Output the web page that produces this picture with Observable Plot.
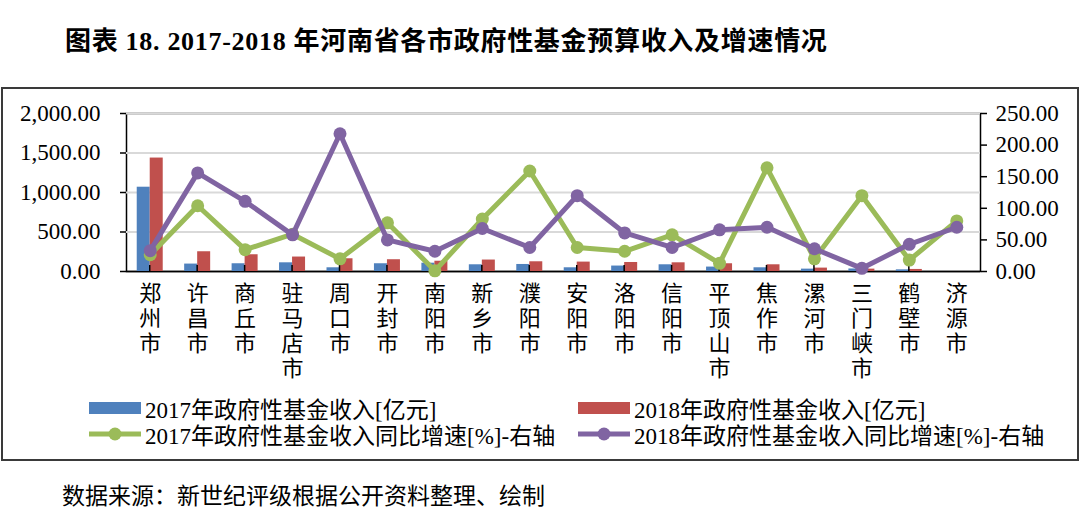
<!DOCTYPE html>
<html><head><meta charset="utf-8">
<script src="https://cdn.jsdelivr.net/npm/d3@7"></script>
<script src="https://cdn.jsdelivr.net/npm/@observablehq/plot@0.6"></script>
<style>
body{margin:0;background:#fff;}
#wrap{position:relative;width:1080px;height:526px;font-family:"Liberation Serif","Noto Sans CJK SC",serif;color:#000;overflow:hidden;}
#title{position:absolute;left:65px;top:25px;font-size:26px;font-weight:bold;letter-spacing:0.7px;white-space:nowrap;line-height:34px;}
#box{position:absolute;left:1px;top:87px;width:1074px;height:370px;border:2px solid #3a3a3a;}
#chart{position:absolute;left:0;top:88px;}
.leg{position:absolute;display:flex;align-items:center;font-size:23px;white-space:nowrap;height:26px;}
.leg svg{margin-right:4px;}
#caption{position:absolute;left:62px;top:483px;font-size:23px;white-space:nowrap;line-height:28px;}
</style>
</head><body>
<div id="wrap">
  <div id="title">图表 18. 2017-2018 年河南省各市政府性基金预算收入及增速情况</div>
  <div id="box"></div>
  <div id="chart"></div>
  <div id="legend"></div>
  <div id="caption">数据来源：新世纪评级根据公开资料整理、绘制</div>
</div>
<script>
const cities = ["郑州市","许昌市","商丘市","驻马店市","周口市","开封市","南阳市","新乡市","濮阳市","安阳市","洛阳市","信阳市","平顶山市","焦作市","漯河市","三门峡市","鹤壁市","济源市"];
const rev2017 = [1067,94,98,110,47,98,105,85,89,47,69,85,56,47,30,32,21,0];
const rev2018 = [1436,250,212,183,161,149,130,145,123,119,114,110,98,85,43,30,26,0];
const growth2017 = [26.5,104,34.5,59,20,77,1,83,159,38,32,58,13,164,20,120,18,80];
const growth2018 = [33,156,111,58,218,50,32,68,38,120,61,38,66,70,36,5,43,70];
const leftTicks = [0,500,1000,1500,2000];
const rightTicks = [0,50,100,150,200,250];
const seriesNames = ["2017年政府性基金收入[亿元]","2018年政府性基金收入[亿元]","2017年政府性基金收入同比增速[%]-右轴","2018年政府性基金收入同比增速[%]-右轴"];
const colors = ["#4F81BD","#C0504D","#9BBB59","#8064A2"];

const k = d3.max(leftTicks) / d3.max(rightTicks);
const rows = cities.map((c,i)=>({city:c, r17:rev2017[i], r18:rev2018[i], g17:growth2017[i]*k, g18:growth2018[i]*k}));

const W=1080, H=300, ML=126, MR=100, MT=25, MB=117;
const bw = (W-ML-MR)/cities.length;
const barW = 13;

const boundaryTicks = (index, scales) => {
  const g = d3.create("svg:g");
  const y0 = scales.y(0);
  const xs = cities.slice(1).map((c,i)=>(scales.x(cities[i]) + scales.x(c))/2);
  g.selectAll("line").data(xs).join("line")
    .attr("x1", d=>d).attr("x2", d=>d)
    .attr("y1", y0).attr("y2", y0-6)
    .attr("stroke","#000").attr("stroke-width",1.5);
  return g.node();
};

const chart = Plot.plot({
  width:W, height:H, marginLeft:ML, marginRight:MR, marginTop:MT, marginBottom:MB,
  style:{fontFamily:"'Liberation Serif','Noto Sans CJK SC',serif", fontSize:"23px", color:"#000", background:"transparent", overflow:"visible"},
  x:{type:"band", domain:cities, padding:0, round:false, label:null},
  y:{domain:[d3.min(leftTicks), d3.max(leftTicks)], label:null},
  marks:[
    Plot.frame({stroke:"#000", strokeWidth:1.5}),
    Plot.gridY(leftTicks.filter(v=>v>0), {stroke:"#d9d9d9", strokeOpacity:1, strokeWidth:2}),
    Plot.ruleY([0], {stroke:"#000", strokeWidth:1.5}),
    Plot.barY(rows,{x:"city", y:"r17", fill:colors[0], insetLeft: bw/2-barW, insetRight: bw/2}),
    Plot.barY(rows,{x:"city", y:"r18", fill:colors[1], insetLeft: bw/2, insetRight: bw/2-barW}),
    boundaryTicks,
    Plot.line(rows,{x:"city", y:"g17", stroke:colors[2], strokeWidth:5, strokeLinejoin:"round"}),
    Plot.dot(rows,{x:"city", y:"g17", fill:colors[2], r:6.5}),
    Plot.line(rows,{x:"city", y:"g18", stroke:colors[3], strokeWidth:5, strokeLinejoin:"round"}),
    Plot.dot(rows,{x:"city", y:"g18", fill:colors[3], r:6.5}),
    Plot.axisY(leftTicks, {anchor:"left", tickSize:6, tickPadding:20, tickFormat:d3.format(",.2f"), fontSize:23, strokeWidth:1.5, label:null}),
    Plot.axisY(rightTicks.map(v=>v*k), {anchor:"right", tickSize:6, tickPadding:9, tickFormat:d=>(d/k).toFixed(2), fontSize:23, strokeWidth:1.5, label:null}),
    Plot.axisX({tickSize:0, tickPadding:12, tickFormat:d=>d.split("").join("\n"), lineAnchor:"top", lineHeight:1.13, fontSize:22, label:null})
  ]
});
document.getElementById("chart").appendChild(chart);

// legend
const legPos = [[89,395],[578,395],[89,421],[578,421]];
const legend = document.getElementById("legend");
seriesNames.forEach((name,i)=>{
  const d = document.createElement("div");
  d.className = "leg";
  d.style.left = legPos[i][0]+"px";
  d.style.top = legPos[i][1]+"px";
  const sw = i<2
    ? `<svg width="52" height="26"><rect x="0" y="7" width="52" height="12" fill="${colors[i]}"/></svg>`
    : `<svg width="52" height="26"><line x1="0" x2="52" y1="13" y2="13" stroke="${colors[i]}" stroke-width="5"/><circle cx="26" cy="13" r="6.5" fill="${colors[i]}"/></svg>`;
  d.innerHTML = sw + `<span>${name}</span>`;
  legend.appendChild(d);
});
</script>
</body></html>
